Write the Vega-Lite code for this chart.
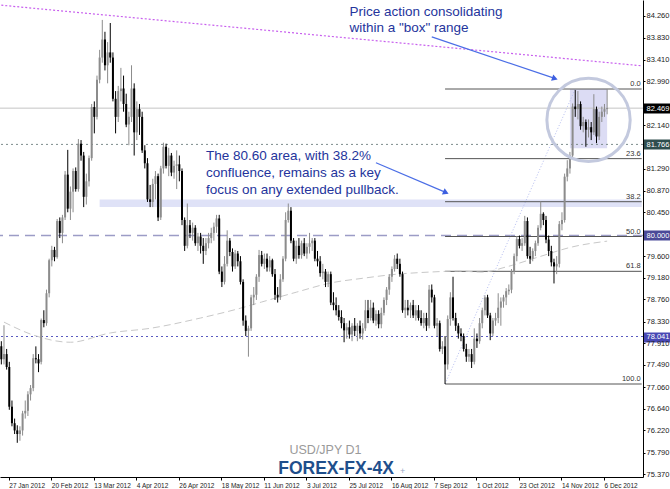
{
"$schema": "https://vega.github.io/schema/vega-lite/v6.json",
"width": 643, "height": 477,
"autosize": "none",
"padding": {"left": 0, "top": 0, "right": 27, "bottom": 12},
"background": "white",
"config": {"view": {"stroke": null}, "font": "Liberation Sans", "axis": {"labelOverlap": false}},
"datasets": {
"candles": [
{"d":"2012-01-24","o":77.85,"h":77.95,"l":77.5,"c":77.6},
{"d":"2012-01-25","o":77.6,"h":78.26,"l":77.5,"c":77.7},
{"d":"2012-01-26","o":77.7,"h":77.8,"l":77.4,"c":77.45},
{"d":"2012-01-27","o":77.45,"h":77.55,"l":76.62,"c":76.68},
{"d":"2012-01-30","o":76.68,"h":76.8,"l":76.3,"c":76.36},
{"d":"2012-01-31","o":76.36,"h":76.45,"l":76.15,"c":76.22},
{"d":"2012-02-01","o":76.22,"h":76.32,"l":75.98,"c":76.15},
{"d":"2012-02-02","o":76.15,"h":76.3,"l":76.02,"c":76.22},
{"d":"2012-02-03","o":76.22,"h":76.6,"l":76.12,"c":76.55},
{"d":"2012-02-06","o":76.55,"h":76.8,"l":76.45,"c":76.6},
{"d":"2012-02-07","o":76.6,"h":76.98,"l":76.5,"c":76.92},
{"d":"2012-02-08","o":76.92,"h":77.1,"l":76.8,"c":77.04},
{"d":"2012-02-09","o":77.04,"h":77.7,"l":76.98,"c":77.62},
{"d":"2012-02-10","o":77.62,"h":77.85,"l":77.52,"c":77.6},
{"d":"2012-02-13","o":77.6,"h":77.7,"l":77.35,"c":77.52},
{"d":"2012-02-14","o":77.55,"h":78.39,"l":77.5,"c":78.36},
{"d":"2012-02-15","o":78.36,"h":78.55,"l":78.22,"c":78.3},
{"d":"2012-02-16","o":78.3,"h":78.95,"l":78.25,"c":78.88},
{"d":"2012-02-17","o":78.88,"h":79.55,"l":78.8,"c":79.52},
{"d":"2012-02-20","o":79.52,"h":79.8,"l":79.4,"c":79.72},
{"d":"2012-02-21","o":79.72,"h":79.78,"l":79.5,"c":79.58},
{"d":"2012-02-22","o":79.58,"h":80.32,"l":79.55,"c":80.28},
{"d":"2012-02-23","o":80.28,"h":80.35,"l":79.95,"c":80.05},
{"d":"2012-02-24","o":80.05,"h":80.4,"l":79.85,"c":80.35},
{"d":"2012-02-27","o":80.35,"h":81.25,"l":80.3,"c":81.18},
{"d":"2012-02-28","o":81.18,"h":81.66,"l":80.45,"c":80.52},
{"d":"2012-02-29","o":80.52,"h":80.95,"l":80.3,"c":80.85},
{"d":"2012-03-01","o":80.85,"h":81.3,"l":80.45,"c":81.25},
{"d":"2012-03-02","o":81.25,"h":81.32,"l":80.85,"c":80.9},
{"d":"2012-03-05","o":80.9,"h":81.87,"l":80.85,"c":81.78},
{"d":"2012-03-06","o":81.78,"h":81.85,"l":81.45,"c":81.55},
{"d":"2012-03-07","o":81.55,"h":81.62,"l":80.55,"c":80.75},
{"d":"2012-03-08","o":80.75,"h":81.2,"l":80.6,"c":81.05},
{"d":"2012-03-09","o":81.05,"h":81.55,"l":80.95,"c":81.5},
{"d":"2012-03-12","o":81.5,"h":82.55,"l":81.45,"c":82.49},
{"d":"2012-03-13","o":82.49,"h":82.6,"l":81.98,"c":82.3},
{"d":"2012-03-14","o":82.3,"h":83.1,"l":82.25,"c":83.02},
{"d":"2012-03-15","o":83.02,"h":83.6,"l":82.95,"c":83.45},
{"d":"2012-03-16","o":83.45,"h":84.18,"l":83.35,"c":83.8},
{"d":"2012-03-19","o":83.8,"h":83.95,"l":83.2,"c":83.3},
{"d":"2012-03-20","o":83.3,"h":83.75,"l":82.95,"c":83.55},
{"d":"2012-03-21","o":83.55,"h":84.12,"l":83.35,"c":83.45},
{"d":"2012-03-22","o":83.45,"h":83.55,"l":82.6,"c":82.65},
{"d":"2012-03-23","o":82.65,"h":82.8,"l":81.98,"c":82.3},
{"d":"2012-03-26","o":82.3,"h":82.9,"l":82.2,"c":82.8},
{"d":"2012-03-27","o":82.8,"h":83.25,"l":82.6,"c":82.85},
{"d":"2012-03-28","o":82.85,"h":83.1,"l":82.4,"c":82.55},
{"d":"2012-03-29","o":82.55,"h":82.75,"l":82.1,"c":82.15},
{"d":"2012-03-30","o":82.15,"h":82.4,"l":81.75,"c":82.3},
{"d":"2012-04-02","o":82.3,"h":83.3,"l":82.2,"c":82.85},
{"d":"2012-04-03","o":82.85,"h":82.95,"l":81.55,"c":82.0},
{"d":"2012-04-04","o":82.0,"h":82.6,"l":81.85,"c":82.45},
{"d":"2012-04-05","o":82.45,"h":82.55,"l":81.95,"c":82.3},
{"d":"2012-04-06","o":82.3,"h":82.4,"l":81.6,"c":81.65},
{"d":"2012-04-09","o":81.65,"h":81.75,"l":81.3,"c":81.4},
{"d":"2012-04-10","o":81.4,"h":81.5,"l":80.65,"c":80.7},
{"d":"2012-04-11","o":80.7,"h":80.98,"l":80.55,"c":80.65},
{"d":"2012-04-12","o":80.65,"h":81.1,"l":80.55,"c":81.0},
{"d":"2012-04-13","o":81.0,"h":81.25,"l":80.7,"c":81.15},
{"d":"2012-04-16","o":81.15,"h":81.2,"l":80.28,"c":80.35},
{"d":"2012-04-17","o":80.35,"h":81.35,"l":80.3,"c":81.3},
{"d":"2012-04-18","o":81.3,"h":81.8,"l":81.2,"c":81.72},
{"d":"2012-04-19","o":81.72,"h":81.78,"l":81.3,"c":81.35},
{"d":"2012-04-20","o":81.35,"h":81.7,"l":81.15,"c":81.55},
{"d":"2012-04-23","o":81.55,"h":81.6,"l":81.15,"c":81.22},
{"d":"2012-04-24","o":81.22,"h":81.45,"l":81.1,"c":81.35},
{"d":"2012-04-25","o":81.35,"h":81.65,"l":80.9,"c":81.38},
{"d":"2012-04-26","o":81.38,"h":81.55,"l":81.05,"c":81.25},
{"d":"2012-04-27","o":81.25,"h":81.3,"l":80.2,"c":80.3},
{"d":"2012-04-30","o":80.3,"h":80.35,"l":79.7,"c":79.8},
{"d":"2012-05-01","o":79.8,"h":80.62,"l":79.75,"c":80.2},
{"d":"2012-05-02","o":80.2,"h":80.3,"l":79.95,"c":80.05},
{"d":"2012-05-03","o":80.05,"h":80.25,"l":79.9,"c":80.15},
{"d":"2012-05-04","o":80.15,"h":80.2,"l":79.8,"c":79.85},
{"d":"2012-05-07","o":79.85,"h":80.05,"l":79.7,"c":79.98},
{"d":"2012-05-08","o":79.98,"h":80.05,"l":79.65,"c":79.8},
{"d":"2012-05-09","o":79.8,"h":79.95,"l":79.45,"c":79.7},
{"d":"2012-05-10","o":79.7,"h":79.95,"l":79.62,"c":79.85},
{"d":"2012-05-11","o":79.85,"h":80.05,"l":79.75,"c":79.95},
{"d":"2012-05-14","o":79.95,"h":80.15,"l":79.85,"c":80.05},
{"d":"2012-05-15","o":80.05,"h":80.25,"l":79.9,"c":80.17},
{"d":"2012-05-16","o":80.17,"h":80.4,"l":80.05,"c":80.33},
{"d":"2012-05-17","o":80.33,"h":80.4,"l":79.25,"c":79.3},
{"d":"2012-05-18","o":79.3,"h":79.4,"l":79.0,"c":79.1},
{"d":"2012-05-21","o":79.1,"h":79.6,"l":79.05,"c":79.45},
{"d":"2012-05-22","o":79.45,"h":80.1,"l":79.4,"c":79.9},
{"d":"2012-05-23","o":79.9,"h":79.95,"l":79.6,"c":79.68},
{"d":"2012-05-24","o":79.68,"h":79.75,"l":79.3,"c":79.4},
{"d":"2012-05-25","o":79.4,"h":79.72,"l":79.35,"c":79.65},
{"d":"2012-05-28","o":79.65,"h":79.7,"l":79.4,"c":79.5},
{"d":"2012-05-29","o":79.5,"h":79.6,"l":79.05,"c":79.1},
{"d":"2012-05-30","o":79.1,"h":79.15,"l":78.25,"c":78.35},
{"d":"2012-05-31","o":78.35,"h":78.45,"l":78.05,"c":78.15},
{"d":"2012-06-01","o":78.15,"h":78.25,"l":77.65,"c":78.2},
{"d":"2012-06-04","o":78.2,"h":78.85,"l":78.15,"c":78.8},
{"d":"2012-06-05","o":78.8,"h":79.0,"l":78.65,"c":78.85},
{"d":"2012-06-06","o":78.85,"h":79.25,"l":78.75,"c":79.2},
{"d":"2012-06-07","o":79.2,"h":79.72,"l":79.1,"c":79.62},
{"d":"2012-06-08","o":79.62,"h":79.7,"l":79.4,"c":79.45},
{"d":"2012-06-11","o":79.45,"h":79.65,"l":79.35,"c":79.55},
{"d":"2012-06-12","o":79.55,"h":79.65,"l":79.3,"c":79.38},
{"d":"2012-06-13","o":79.38,"h":79.6,"l":79.3,"c":79.52},
{"d":"2012-06-14","o":79.52,"h":79.55,"l":79.2,"c":79.25},
{"d":"2012-06-15","o":79.25,"h":79.35,"l":78.75,"c":78.85},
{"d":"2012-06-18","o":78.85,"h":79.0,"l":78.7,"c":78.8},
{"d":"2012-06-19","o":78.8,"h":79.25,"l":78.75,"c":79.15},
{"d":"2012-06-20","o":79.15,"h":79.6,"l":79.1,"c":79.55},
{"d":"2012-06-21","o":79.55,"h":80.45,"l":79.5,"c":80.3},
{"d":"2012-06-22","o":80.3,"h":80.62,"l":80.25,"c":80.48},
{"d":"2012-06-25","o":80.48,"h":80.55,"l":79.85,"c":79.9},
{"d":"2012-06-26","o":79.9,"h":79.95,"l":79.5,"c":79.55},
{"d":"2012-06-27","o":79.55,"h":79.9,"l":79.45,"c":79.8},
{"d":"2012-06-28","o":79.8,"h":79.95,"l":79.55,"c":79.62},
{"d":"2012-06-29","o":79.62,"h":79.9,"l":79.55,"c":79.85},
{"d":"2012-07-02","o":79.85,"h":79.95,"l":79.6,"c":79.65},
{"d":"2012-07-03","o":79.65,"h":79.85,"l":79.55,"c":79.78},
{"d":"2012-07-04","o":79.78,"h":80.05,"l":79.65,"c":79.85},
{"d":"2012-07-05","o":79.85,"h":79.95,"l":79.7,"c":79.9},
{"d":"2012-07-06","o":79.9,"h":79.95,"l":79.5,"c":79.55},
{"d":"2012-07-09","o":79.55,"h":79.7,"l":79.4,"c":79.5},
{"d":"2012-07-10","o":79.5,"h":79.6,"l":79.2,"c":79.27},
{"d":"2012-07-11","o":79.27,"h":79.45,"l":79.15,"c":79.3},
{"d":"2012-07-12","o":79.3,"h":79.35,"l":79.0,"c":79.1},
{"d":"2012-07-13","o":79.1,"h":79.3,"l":79.0,"c":79.25},
{"d":"2012-07-16","o":79.25,"h":79.3,"l":78.65,"c":78.7},
{"d":"2012-07-17","o":78.7,"h":78.9,"l":78.55,"c":78.65},
{"d":"2012-07-18","o":78.65,"h":78.8,"l":78.45,"c":78.55},
{"d":"2012-07-19","o":78.55,"h":78.65,"l":78.35,"c":78.42},
{"d":"2012-07-20","o":78.42,"h":78.55,"l":78.2,"c":78.3},
{"d":"2012-07-23","o":78.3,"h":78.4,"l":77.93,"c":78.16},
{"d":"2012-07-24","o":78.16,"h":78.3,"l":78.0,"c":78.22},
{"d":"2012-07-25","o":78.22,"h":78.35,"l":78.0,"c":78.08},
{"d":"2012-07-26","o":78.08,"h":78.3,"l":77.95,"c":78.25},
{"d":"2012-07-27","o":78.25,"h":78.4,"l":78.05,"c":78.15},
{"d":"2012-07-30","o":78.15,"h":78.3,"l":77.95,"c":78.25},
{"d":"2012-07-31","o":78.25,"h":78.35,"l":78.0,"c":78.1},
{"d":"2012-08-01","o":78.1,"h":78.3,"l":77.98,"c":78.2},
{"d":"2012-08-02","o":78.2,"h":78.75,"l":78.15,"c":78.55},
{"d":"2012-08-03","o":78.55,"h":78.75,"l":78.3,"c":78.4},
{"d":"2012-08-06","o":78.4,"h":78.75,"l":78.35,"c":78.6},
{"d":"2012-08-07","o":78.6,"h":78.7,"l":78.3,"c":78.35},
{"d":"2012-08-08","o":78.35,"h":78.55,"l":78.25,"c":78.48},
{"d":"2012-08-09","o":78.48,"h":78.55,"l":78.2,"c":78.28},
{"d":"2012-08-10","o":78.28,"h":78.6,"l":78.2,"c":78.5},
{"d":"2012-08-13","o":78.5,"h":78.8,"l":78.45,"c":78.75},
{"d":"2012-08-14","o":78.75,"h":79.0,"l":78.65,"c":78.95},
{"d":"2012-08-15","o":78.95,"h":79.25,"l":78.85,"c":79.2},
{"d":"2012-08-16","o":79.2,"h":79.4,"l":79.1,"c":79.35},
{"d":"2012-08-17","o":79.35,"h":79.62,"l":79.3,"c":79.55},
{"d":"2012-08-20","o":79.55,"h":79.65,"l":79.35,"c":79.45},
{"d":"2012-08-21","o":79.45,"h":79.55,"l":79.2,"c":79.25},
{"d":"2012-08-22","o":79.25,"h":79.3,"l":78.5,"c":78.55},
{"d":"2012-08-23","o":78.55,"h":78.75,"l":78.4,"c":78.6},
{"d":"2012-08-24","o":78.6,"h":78.75,"l":78.45,"c":78.55},
{"d":"2012-08-27","o":78.55,"h":78.7,"l":78.4,"c":78.65},
{"d":"2012-08-28","o":78.65,"h":78.75,"l":78.4,"c":78.45},
{"d":"2012-08-29","o":78.45,"h":78.65,"l":78.35,"c":78.55},
{"d":"2012-08-30","o":78.55,"h":78.65,"l":78.35,"c":78.4},
{"d":"2012-08-31","o":78.4,"h":78.55,"l":78.25,"c":78.3},
{"d":"2012-09-03","o":78.3,"h":78.5,"l":78.2,"c":78.4},
{"d":"2012-09-04","o":78.4,"h":78.5,"l":78.15,"c":78.25},
{"d":"2012-09-05","o":78.25,"h":79.04,"l":78.2,"c":78.95},
{"d":"2012-09-06","o":78.95,"h":79.05,"l":78.7,"c":78.8},
{"d":"2012-09-07","o":78.8,"h":78.85,"l":78.2,"c":78.25},
{"d":"2012-09-10","o":78.25,"h":78.4,"l":78.05,"c":78.3},
{"d":"2012-09-11","o":78.3,"h":78.35,"l":77.75,"c":77.8},
{"d":"2012-09-12","o":77.8,"h":77.95,"l":77.7,"c":77.85},
{"d":"2012-09-13","o":77.85,"h":78.05,"l":77.12,"c":77.5},
{"d":"2012-09-14","o":77.5,"h":78.45,"l":77.4,"c":78.38},
{"d":"2012-09-17","o":78.38,"h":78.9,"l":78.25,"c":78.8},
{"d":"2012-09-18","o":78.8,"h":79.2,"l":78.35,"c":78.4},
{"d":"2012-09-19","o":78.4,"h":78.5,"l":78.15,"c":78.25},
{"d":"2012-09-20","o":78.25,"h":78.3,"l":78.0,"c":78.1},
{"d":"2012-09-21","o":78.1,"h":78.2,"l":77.95,"c":78.05},
{"d":"2012-09-24","o":78.05,"h":78.1,"l":77.75,"c":77.8},
{"d":"2012-09-25","o":77.8,"h":77.9,"l":77.55,"c":77.65},
{"d":"2012-09-26","o":77.65,"h":77.8,"l":77.55,"c":77.7},
{"d":"2012-09-27","o":77.7,"h":77.8,"l":77.43,"c":77.55},
{"d":"2012-09-28","o":77.55,"h":78.2,"l":77.5,"c":78.0},
{"d":"2012-10-01","o":78.0,"h":78.1,"l":77.82,"c":77.95},
{"d":"2012-10-02","o":77.95,"h":78.4,"l":77.9,"c":78.3},
{"d":"2012-10-03","o":78.3,"h":78.6,"l":78.2,"c":78.55},
{"d":"2012-10-04","o":78.55,"h":78.84,"l":78.45,"c":78.8},
{"d":"2012-10-05","o":78.8,"h":78.85,"l":78.4,"c":78.45},
{"d":"2012-10-08","o":78.45,"h":78.5,"l":77.97,"c":78.1},
{"d":"2012-10-09","o":78.1,"h":78.4,"l":78.05,"c":78.35},
{"d":"2012-10-10","o":78.35,"h":78.5,"l":78.25,"c":78.4},
{"d":"2012-10-11","o":78.4,"h":78.88,"l":78.3,"c":78.6},
{"d":"2012-10-12","o":78.6,"h":78.8,"l":78.25,"c":78.72},
{"d":"2012-10-15","o":78.72,"h":78.85,"l":78.6,"c":78.8},
{"d":"2012-10-16","o":78.8,"h":78.98,"l":78.65,"c":78.92},
{"d":"2012-10-17","o":78.92,"h":79.05,"l":78.85,"c":78.95},
{"d":"2012-10-18","o":78.95,"h":79.35,"l":78.88,"c":79.3},
{"d":"2012-10-19","o":79.3,"h":79.65,"l":79.25,"c":79.6},
{"d":"2012-10-22","o":79.6,"h":79.99,"l":79.5,"c":79.93},
{"d":"2012-10-23","o":79.93,"h":80.0,"l":79.75,"c":79.8},
{"d":"2012-10-24","o":79.8,"h":79.95,"l":79.7,"c":79.85},
{"d":"2012-10-25","o":79.85,"h":80.38,"l":79.8,"c":80.28},
{"d":"2012-10-26","o":80.28,"h":80.35,"l":79.55,"c":79.6},
{"d":"2012-10-29","o":79.6,"h":79.78,"l":79.45,"c":79.55},
{"d":"2012-10-30","o":79.55,"h":79.75,"l":79.5,"c":79.7},
{"d":"2012-10-31","o":79.7,"h":79.9,"l":79.6,"c":79.85},
{"d":"2012-11-01","o":79.85,"h":80.2,"l":79.8,"c":80.15},
{"d":"2012-11-02","o":80.15,"h":80.66,"l":80.1,"c":80.42},
{"d":"2012-11-05","o":80.42,"h":80.45,"l":80.2,"c":80.3},
{"d":"2012-11-06","o":80.3,"h":80.38,"l":79.85,"c":79.92},
{"d":"2012-11-07","o":79.92,"h":80.0,"l":79.6,"c":79.7},
{"d":"2012-11-08","o":79.7,"h":79.8,"l":79.4,"c":79.48},
{"d":"2012-11-09","o":79.48,"h":79.55,"l":79.07,"c":79.4},
{"d":"2012-11-12","o":79.4,"h":79.6,"l":79.25,"c":79.45},
{"d":"2012-11-13","o":79.45,"h":80.28,"l":79.38,"c":80.22},
{"d":"2012-11-14","o":80.22,"h":80.45,"l":80.1,"c":80.3},
{"d":"2012-11-15","o":80.3,"h":81.2,"l":80.25,"c":81.14},
{"d":"2012-11-16","o":81.14,"h":81.46,"l":81.05,"c":81.3},
{"d":"2012-11-19","o":81.3,"h":81.62,"l":81.2,"c":81.55},
{"d":"2012-11-20","o":81.55,"h":82.56,"l":81.5,"c":82.5},
{"d":"2012-11-21","o":82.5,"h":82.82,"l":82.3,"c":82.45},
{"d":"2012-11-22","o":82.45,"h":82.8,"l":82.25,"c":82.55},
{"d":"2012-11-23","o":82.55,"h":82.6,"l":82.05,"c":82.12},
{"d":"2012-11-26","o":82.12,"h":82.3,"l":82.0,"c":82.2},
{"d":"2012-11-27","o":82.2,"h":82.25,"l":81.72,"c":82.05},
{"d":"2012-11-28","o":82.05,"h":82.25,"l":81.9,"c":82.1},
{"d":"2012-11-29","o":82.1,"h":82.2,"l":81.85,"c":82.0},
{"d":"2012-11-30","o":82.0,"h":82.74,"l":81.95,"c":82.45},
{"d":"2012-12-03","o":82.45,"h":82.5,"l":81.79,"c":81.92},
{"d":"2012-12-04","o":81.92,"h":82.4,"l":81.85,"c":82.3},
{"d":"2012-12-05","o":82.3,"h":82.5,"l":82.2,"c":82.4},
{"d":"2012-12-06","o":82.4,"h":82.55,"l":82.3,"c":82.45},
{"d":"2012-12-07","o":82.45,"h":82.84,"l":82.35,"c":82.47}
],
"ma": [
{"d":"2012-01-25","p":78.32},{"d":"2012-02-09","p":78.07},{"d":"2012-02-29","p":77.93},{"d":"2012-03-21","p":78.11},{"d":"2012-04-11","p":78.2},{"d":"2012-05-08","p":78.4},{"d":"2012-05-29","p":78.59},{"d":"2012-06-08","p":78.71},{"d":"2012-06-27","p":78.9},{"d":"2012-07-16","p":79.08},{"d":"2012-08-01","p":79.17},{"d":"2012-08-20","p":79.25},{"d":"2012-09-05","p":79.29},{"d":"2012-09-20","p":79.31},{"d":"2012-10-03","p":79.29},{"d":"2012-10-16","p":79.39},{"d":"2012-11-01","p":79.58},{"d":"2012-11-20","p":79.78},{"d":"2012-12-07","p":79.89}
],
"fib": [
{"lvl":"0.0","p":82.84,"d1":"2012-09-13","d2":"2012-12-26"},
{"lvl":"23.6","p":81.49,"d1":"2012-09-13","d2":"2012-12-26"},
{"lvl":"38.2","p":80.655,"d1":"2012-09-13","d2":"2012-12-26"},
{"lvl":"50.0","p":79.98,"d1":"2012-09-13","d2":"2012-12-26"},
{"lvl":"61.8","p":79.305,"d1":"2012-09-13","d2":"2012-12-26"},
{"lvl":"100.0","p":77.12,"d1":"2012-09-13","d2":"2012-12-26"}
]
},
"layer": [
{
"data": {"values": [{"d1":"2012-03-15","d2":"2012-12-26","lo":80.55,"hi":80.7}]},
"mark": {"type": "rect", "color": "#dfe2f7"},
"encoding": {
"x": {"field": "d1", "type": "ordinal", "title": null},
"x2": {"field": "d2"},
"y": {"field": "lo", "type": "quantitative", "title": null},
"y2": {"field": "hi"}
}
},
{
"data": {"values": [{"d1":"2012-11-19","d2":"2012-12-07","lo":81.69,"hi":82.84}]},
"mark": {"type": "rect", "color": "#dcdcf4"},
"encoding": {
"x": {"field": "d1", "type": "ordinal", "title": null},
"x2": {"field": "d2"},
"y": {"field": "lo", "type": "quantitative", "title": null},
"y2": {"field": "hi"}
}
},
{
"data": {"values": [{"p": 82.469}]},
"mark": {"type": "rule", "color": "#c4c4c4", "strokeWidth": 1},
"encoding": {"y": {"field": "p", "type": "quantitative", "title": null}}
},
{
"data": {"values": [{"p": 81.766}]},
"mark": {"type": "rule", "color": "#7d8c8c", "strokeWidth": 1, "strokeDash": [2, 3]},
"encoding": {"y": {"field": "p", "type": "quantitative", "title": null}}
},
{
"data": {"values": [{"p": 80.0}]},
"mark": {"type": "rule", "color": "#9c9cc6", "strokeWidth": 1.5, "strokeDash": [10, 6]},
"encoding": {"y": {"field": "p", "type": "quantitative", "title": null}}
},
{
"data": {"values": [{"p": 78.041}]},
"mark": {"type": "rule", "color": "#5a5ac0", "strokeWidth": 1, "strokeDash": [2, 3]},
"encoding": {"y": {"field": "p", "type": "quantitative", "title": null}}
},
{
"data": {"values": [{"d1":"2012-01-24","p1":84.465,"d2":"2012-12-26","p2":83.29}]},
"mark": {"type": "rule", "color": "#c860ee", "strokeWidth": 1.2, "strokeDash": [2, 2]},
"encoding": {
"x": {"field": "d1", "type": "ordinal", "title": null},
"x2": {"field": "d2"},
"y": {"field": "p1", "type": "quantitative", "title": null},
"y2": {"field": "p2"}
}
},
{
"data": {"values": [{"d1":"2012-09-13","p1":77.12,"d2":"2012-11-21","p2":82.84}]},
"mark": {"type": "rule", "color": "#b4bcf0", "strokeWidth": 1, "strokeDash": [1, 2]},
"encoding": {
"x": {"field": "d1", "type": "ordinal", "title": null},
"x2": {"field": "d2"},
"y": {"field": "p1", "type": "quantitative", "title": null},
"y2": {"field": "p2"}
}
},
{
"data": {"name": "fib"},
"mark": {"type": "rule", "color": "#555555", "strokeWidth": 1},
"encoding": {
"x": {"field": "d1", "type": "ordinal", "title": null},
"x2": {"field": "d2"},
"y": {"field": "p", "type": "quantitative", "title": null}
}
},
{
"data": {"name": "fib"},
"mark": {"type": "text", "align": "right", "baseline": "bottom", "dx": -1, "dy": -1, "fontSize": 7.5, "color": "#333333", "font": "Liberation Sans"},
"encoding": {
"x": {"field": "d2", "type": "ordinal", "title": null},
"y": {"field": "p", "type": "quantitative", "title": null},
"text": {"field": "lvl"}
}
},
{
"data": {"name": "ma"},
"mark": {"type": "line", "color": "#c8c8c8", "strokeWidth": 1, "strokeDash": [7, 4], "interpolate": "monotone"},
"encoding": {
"x": {"field": "d", "type": "ordinal", "title": null},
"y": {"field": "p", "type": "quantitative", "title": null}
}
},
{
"data": {"name": "candles"},
"mark": {"type": "rule", "strokeWidth": 1},
"encoding": {
"x": {
"field": "d", "type": "ordinal", "title": null,
"scale": {"type": "band", "paddingInner": 0, "paddingOuter": 0,
"domain": {"unionWith": ["2012-12-10","2012-12-11","2012-12-12","2012-12-13","2012-12-14","2012-12-17","2012-12-18","2012-12-19","2012-12-20","2012-12-21","2012-12-24","2012-12-25","2012-12-26"]}},
"axis": {
"values": ["2012-01-27","2012-02-20","2012-03-13","2012-04-04","2012-04-26","2012-05-18","2012-06-11","2012-07-03","2012-07-25","2012-08-16","2012-09-07","2012-10-01","2012-10-23","2012-11-14","2012-12-06"],
"labelExpr": "utcFormat(toDate(datum.value), '%-d %b %Y')",
"labelAngle": 0, "labelAlign": "left", "labelBaseline": "top", "labelPadding": 2,
"labelFontSize": 6.5, "labelFont": "Liberation Sans", "labelColor": "#222222",
"tickSize": 3, "tickColor": "#000000", "domainColor": "#000000", "domainWidth": 1,
"labelOverlap": false, "labelBound": false, "labelFlush": false, "grid": false, "title": null
}
},
"y": {
"field": "l", "type": "quantitative", "title": null,
"scale": {"domain": [75.317, 84.566], "zero": false, "nice": false},
"axis": {
"orient": "right",
"tickCount": 100,
"values": [84.26, 83.83, 83.41, 82.99, 82.14, 81.29, 80.87, 80.45, 79.6, 79.18, 78.76, 78.33, 77.91, 77.49, 77.06, 76.64, 76.22, 75.79, 75.37, 82.469, 81.766, 80, 78.041],
"labelExpr": "format(datum.value, '.3f')",
"labelFontSize": 7.5, "labelFont": "Liberation Sans", "labelBaseline": "middle", "labelAlign": "left",
"labelPadding": -24, "tickSize": 27,
"tickDash": {"condition": {"test": "datum.value==82.469||datum.value==81.766||datum.value==80||datum.value==78.041", "value": []}, "value": [2, 60]},
"tickWidth": {"condition": {"test": "datum.value==82.469||datum.value==81.766||datum.value==80||datum.value==78.041", "value": 10}, "value": 1},
"tickColor": {"condition": [
{"test": "datum.value==82.469", "value": "#000000"},
{"test": "datum.value==81.766", "value": "#2e4d4d"},
{"test": "datum.value==80", "value": "#4a4a98"},
{"test": "datum.value==78.041", "value": "#4848b4"}
], "value": "#000000"},
"labelColor": {"condition": {"test": "datum.value==82.469||datum.value==81.766||datum.value==80||datum.value==78.041", "value": "#ffffff"}, "value": "#222222"},
"domainColor": "#000000", "grid": false,
"labelOverlap": false, "labelBound": false, "labelFlush": false, "title": null
}
},
"y2": {"field": "h"},
"color": {"condition": {"test": "datum.c >= datum.o", "value": "#8c8c8c"}, "value": "#000000"}
}
},
{
"data": {"name": "candles"},
"mark": {"type": "bar", "width": 2},
"encoding": {
"x": {"field": "d", "type": "ordinal", "title": null},
"y": {"field": "o", "type": "quantitative", "title": null},
"y2": {"field": "c"},
"color": {"condition": {"test": "datum.c >= datum.o", "value": "#8c8c8c"}, "value": "#000000"}
}
},
{
"data": {"values": [{"d":"2012-11-28","p":82.24}]},
"mark": {"type": "point", "shape": "circle", "size": 6940, "filled": false, "stroke": "#c3c9de", "strokeWidth": 3, "opacity": 1},
"encoding": {
"x": {"field": "d", "type": "ordinal", "title": null},
"y": {"field": "p", "type": "quantitative", "title": null}
}
},
{
"data": {"values": [{"d1":"2012-09-06","p1":83.85,"d2":"2012-11-09","p2":83.05},{"d1":"2012-08-08","p1":81.41,"d2":"2012-09-13","p2":80.84}]},
"mark": {"type": "rule", "color": "#4b6ee6", "strokeWidth": 1.2},
"encoding": {
"x": {"field": "d1", "type": "ordinal", "title": null},
"x2": {"field": "d2"},
"y": {"field": "p1", "type": "quantitative", "title": null},
"y2": {"field": "p2"}
}
},
{
"data": {"values": [{"d":"2012-11-09","p":83.05,"a":109},{"d":"2012-09-13","p":80.84,"a":114}]},
"mark": {"type": "point", "shape": "triangle", "size": 45, "filled": true, "color": "#3d5fe0", "opacity": 1},
"encoding": {
"x": {"field": "d", "type": "ordinal", "title": null},
"y": {"field": "p", "type": "quantitative", "title": null},
"angle": {"field": "a", "type": "quantitative", "scale": null}
}
},
{
"data": {"values": [{"d":"2012-07-25","p":84.26,"t":["Price action consolidating","within a \"box\" range"]}]},
"mark": {"type": "text", "align": "left", "baseline": "alphabetic", "fontSize": 13.5, "lineHeight": 16.5, "font": "Liberation Sans", "color": "#24349c"},
"encoding": {
"x": {"field": "d", "type": "ordinal", "title": null},
"y": {"field": "p", "type": "quantitative", "title": null},
"text": {"field": "t"}
}
},
{
"data": {"values": [{"d":"2012-05-10","p":81.46,"t":["The 80.60 area, with 38.2%","confluence, remains as a key","focus on any extended pullback."]}]},
"mark": {"type": "text", "align": "left", "baseline": "alphabetic", "fontSize": 13.5, "lineHeight": 17, "font": "Liberation Sans", "color": "#24349c"},
"encoding": {
"x": {"field": "d", "type": "ordinal", "title": null},
"y": {"field": "p", "type": "quantitative", "title": null},
"text": {"field": "t"}
}
},
{
"data": {"values": [{"d":"2012-07-12","p":75.84,"t":"USD/JPY D1"}]},
"mark": {"type": "text", "align": "center", "baseline": "middle", "fontSize": 12.5, "font": "Liberation Sans", "color": "#9a9a9a"},
"encoding": {
"x": {"field": "d", "type": "ordinal", "title": null},
"y": {"field": "p", "type": "quantitative", "title": null},
"text": {"field": "t"}
}
},
{
"data": {"values": [{"d":"2012-07-18","p":75.47,"t":"FOREX-FX-4X"}]},
"mark": {"type": "text", "align": "center", "baseline": "middle", "fontSize": 17.5, "fontWeight": "bold", "font": "Liberation Sans", "color": "#1f4f8c"},
"encoding": {
"x": {"field": "d", "type": "ordinal", "title": null},
"y": {"field": "p", "type": "quantitative", "title": null},
"text": {"field": "t"}
}
},
{
"data": {"values": [{"d":"2012-08-22","p":75.43,"t":"+"}]},
"mark": {"type": "text", "align": "center", "baseline": "middle", "fontSize": 9, "font": "Liberation Sans", "color": "#9aaac8"},
"encoding": {
"x": {"field": "d", "type": "ordinal", "title": null},
"y": {"field": "p", "type": "quantitative", "title": null},
"text": {"field": "t"}
}
}
]
}
